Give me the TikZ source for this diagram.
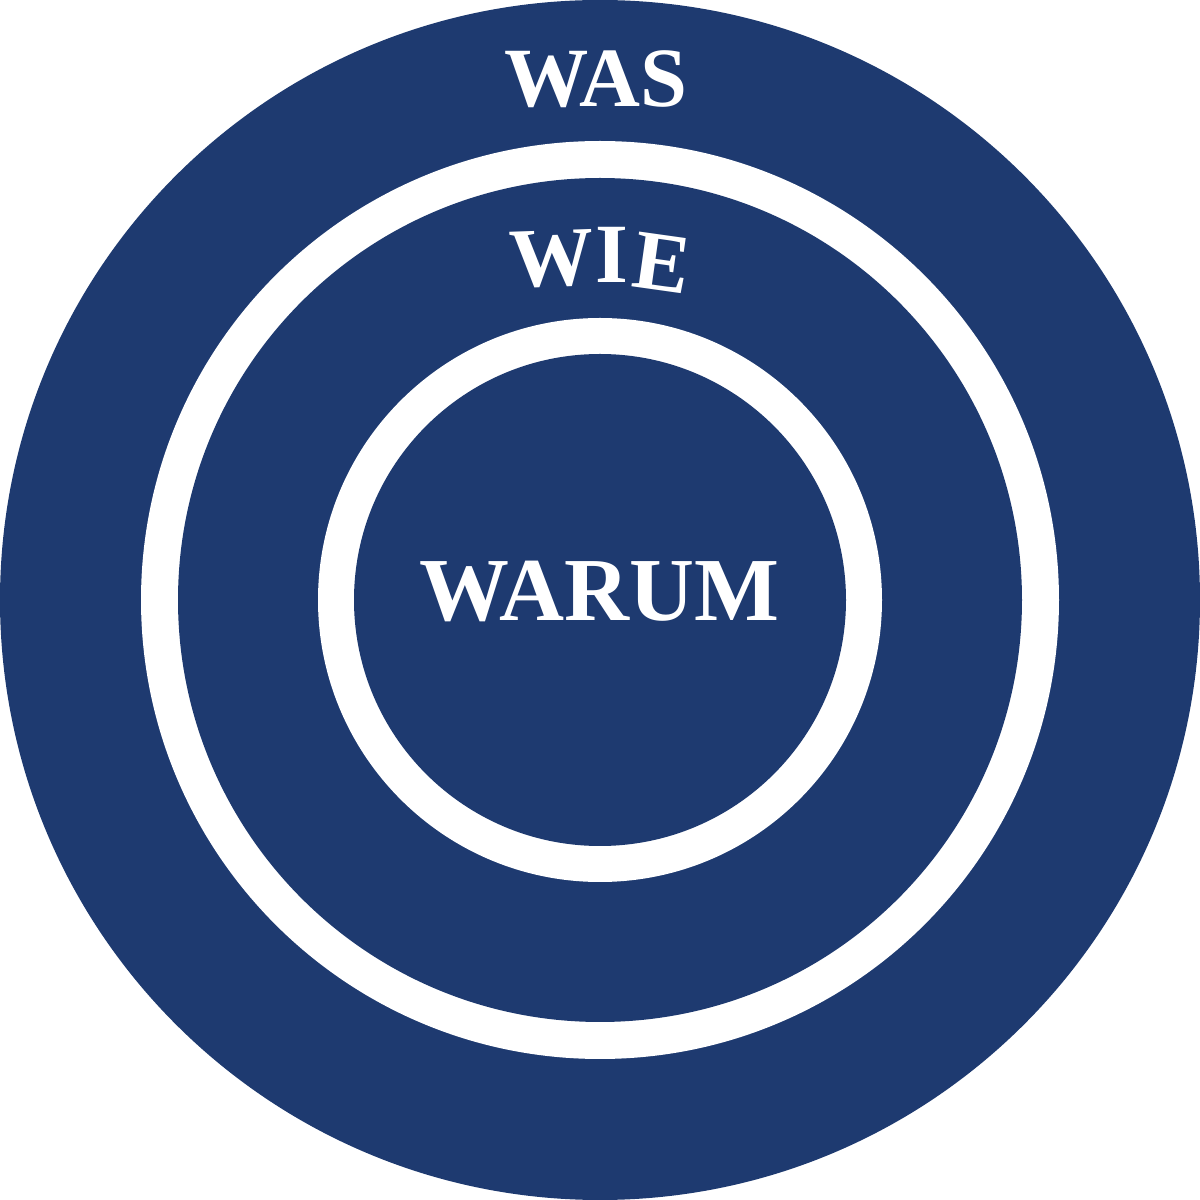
\documentclass[tikz,border=0pt]{standalone}
\usepackage{fontspec}
\setmainfont{Liberation Serif}
\definecolor{gcblue}{RGB}{30,58,112}
\begin{document}
\begin{tikzpicture}
\tikzset{
  lbl/.style={text=white, inner sep=0pt, anchor=base},
}
\useasboundingbox (0,0) rectangle (12,12);
\coordinate (c) at (6,6);
\fill[gcblue] (c) circle[radius=6];
\fill[white] (c) circle[radius=4.59];
\fill[gcblue] (c) circle[radius=4.22];
\fill[white] (c) circle[radius=2.82];
\fill[gcblue] (c) circle[radius=2.46];
\node[lbl, font=\bfseries\fontsize{24pt}{28pt}\selectfont] (was) at (5.955,10.93) {WAS};
\node[lbl, font=\bfseries\fontsize{25.6pt}{30pt}\selectfont] (warum) at (5.995,5.79) {WARUM};
\node[lbl, font=\bfseries\fontsize{24pt}{30pt}\selectfont, rotate=2] (wiew) at (5.53,9.14) {W};
\node[lbl, font=\bfseries\fontsize{24pt}{30pt}\selectfont] (wiei) at (6.12,9.17) {I};
\node[lbl, font=\bfseries\fontsize{24pt}{30pt}\selectfont, rotate=-8] (wiee) at (6.58,9.10) {E};
\end{tikzpicture}
\end{document}
